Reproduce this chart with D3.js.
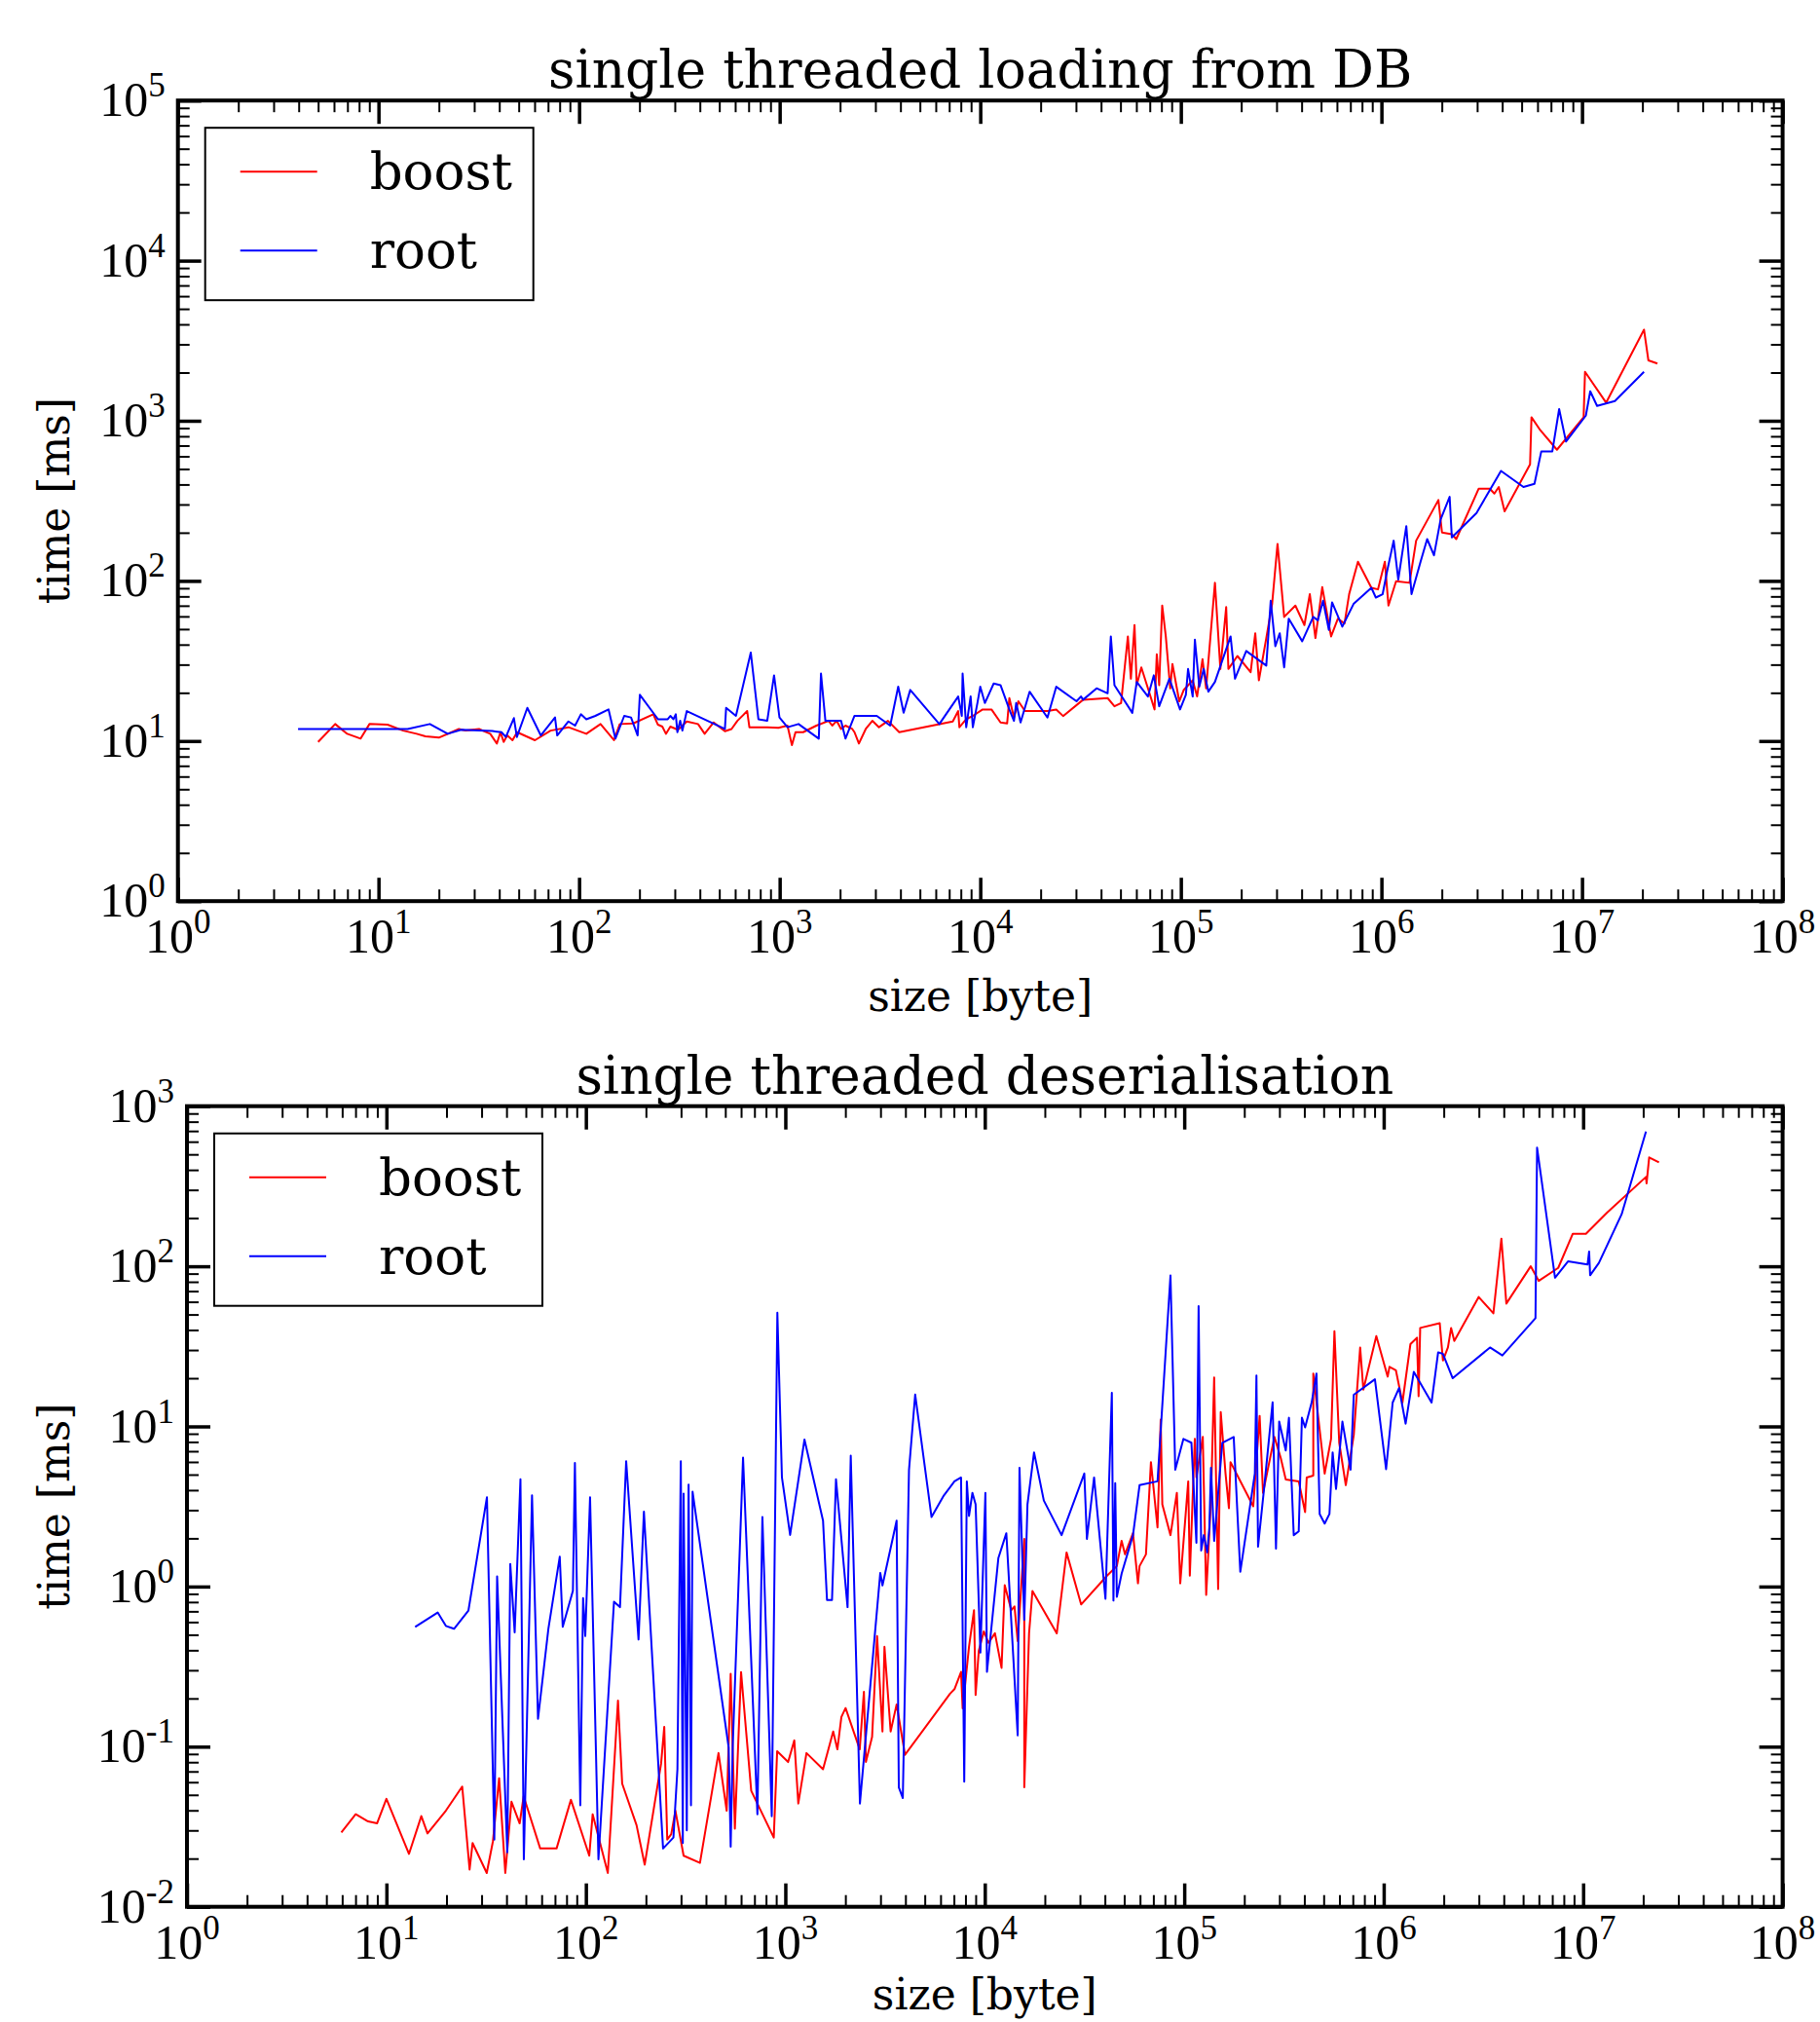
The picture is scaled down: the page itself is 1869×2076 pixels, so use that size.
<!DOCTYPE html>
<html>
<head>
<meta charset="utf-8">
<script src="https://cdn.jsdelivr.net/npm/d3@7"></script>
<style>
  body { margin: 0; background: #fff; }
  svg { display: block; }
</style>
</head>
<body>
<div id="chart"></div>
<script>
// Values, stored as log10(size [byte]) and log10(time [ms])

// single threaded loading from DB
const loadBoostLogSize = [0.699,0.784,0.844,0.911,0.955,1.045,1.123,1.19,1.234,1.301,1.401,1.435,1.501,1.557,1.59,1.608,1.624,1.642,1.668,1.691,1.78,1.858,1.947,2.036,2.107,2.174,2.203,2.27,2.37,2.393,2.415,2.433,2.455,2.493,2.537,2.593,2.626,2.671,2.727,2.76,2.789,2.838,2.849,2.938,2.994,3.039,3.061,3.079,3.117,3.183,3.244,3.262,3.284,3.306,3.328,3.362,3.373,3.395,3.429,3.462,3.495,3.54,3.596,3.863,3.89,3.896,3.93,3.963,4.012,4.056,4.101,4.134,4.145,4.168,4.19,4.223,4.335,4.379,4.413,4.513,4.635,4.669,4.702,4.736,4.751,4.769,4.78,4.803,4.836,4.869,4.88,4.892,4.907,4.925,4.947,4.958,4.992,5.014,5.059,5.081,5.108,5.126,5.17,5.197,5.226,5.237,5.282,5.348,5.371,5.389,5.426,5.455,5.482,5.515,5.571,5.616,5.643,5.671,5.705,5.749,5.783,5.816,5.839,5.883,5.95,5.983,6.017,6.035,6.073,6.14,6.173,6.284,6.302,6.351,6.373,6.485,6.54,6.563,6.585,6.614,6.741,6.748,6.792,6.875,7.008,7.015,7.12,7.309,7.331,7.376];
const loadBoostLogTime = [0.994,1.106,1.045,1.015,1.106,1.102,1.065,1.045,1.029,1.021,1.075,1.065,1.075,1.045,0.984,1.055,0.994,1.035,1.005,1.055,1.005,1.065,1.086,1.045,1.106,1.005,1.106,1.11,1.167,1.102,1.09,1.045,1.09,1.07,1.122,1.106,1.045,1.116,1.061,1.075,1.126,1.187,1.086,1.086,1.082,1.096,0.974,1.055,1.055,1.096,1.126,1.096,1.126,1.075,1.096,1.075,1.055,0.984,1.075,1.126,1.086,1.126,1.055,1.122,1.187,1.086,1.136,1.157,1.197,1.197,1.116,1.11,1.268,1.146,1.248,1.187,1.187,1.197,1.156,1.258,1.268,1.217,1.237,1.653,1.389,1.724,1.349,1.46,1.329,1.197,1.541,1.349,1.846,1.653,1.329,1.481,1.248,1.318,1.379,1.278,1.511,1.329,1.988,1.45,1.836,1.45,1.531,1.43,1.673,1.379,1.643,1.856,2.231,1.775,1.846,1.724,1.917,1.643,1.961,1.653,1.764,1.734,1.917,2.12,1.957,1.947,2.12,1.846,1.998,1.988,2.251,2.505,2.302,2.292,2.261,2.576,2.576,2.545,2.586,2.434,2.728,3.022,2.941,2.819,3.022,3.306,3.113,3.569,3.377,3.357];

const loadRootLogSize = [0.599,1.145,1.256,1.345,1.412,1.568,1.613,1.635,1.675,1.69,1.742,1.809,1.88,1.891,1.947,1.98,2.009,2.036,2.081,2.147,2.181,2.225,2.259,2.292,2.303,2.381,2.393,2.442,2.455,2.47,2.482,2.49,2.504,2.515,2.537,2.727,2.733,2.782,2.856,2.894,2.938,2.972,2.999,3.039,3.094,3.195,3.206,3.228,3.306,3.328,3.373,3.484,3.551,3.591,3.618,3.651,3.796,3.89,3.908,3.912,3.93,3.952,3.963,3.986,4.0,4.023,4.067,4.101,4.145,4.168,4.179,4.201,4.246,4.335,4.379,4.48,4.502,4.513,4.58,4.635,4.651,4.669,4.758,4.78,4.836,4.865,4.892,4.943,4.996,5.025,5.036,5.059,5.07,5.092,5.114,5.137,5.17,5.248,5.27,5.326,5.426,5.448,5.471,5.493,5.515,5.538,5.605,5.66,5.683,5.709,5.738,5.754,5.805,5.861,5.95,5.972,6.006,6.028,6.061,6.084,6.124,6.15,6.195,6.228,6.262,6.295,6.34,6.351,6.474,6.596,6.708,6.763,6.797,6.852,6.886,6.92,7.019,7.041,7.075,7.164,7.309];
const loadRootLogTime = [1.075,1.075,1.106,1.045,1.07,1.062,1.055,1.025,1.143,1.025,1.207,1.035,1.147,1.035,1.122,1.096,1.167,1.136,1.157,1.197,1.015,1.157,1.147,1.035,1.289,1.157,1.136,1.136,1.157,1.136,1.167,1.055,1.126,1.065,1.187,1.075,1.207,1.157,1.552,1.136,1.126,1.41,1.147,1.086,1.106,1.015,1.421,1.126,1.126,1.015,1.157,1.157,1.096,1.339,1.177,1.319,1.106,1.278,1.157,1.421,1.086,1.278,1.086,1.238,1.339,1.237,1.359,1.349,1.197,1.126,1.237,1.116,1.308,1.146,1.339,1.248,1.278,1.258,1.329,1.298,1.653,1.349,1.176,1.369,1.278,1.41,1.217,1.389,1.197,1.288,1.45,1.278,1.633,1.339,1.45,1.308,1.369,1.653,1.389,1.562,1.471,1.876,1.592,1.673,1.46,1.764,1.623,1.775,1.754,1.876,1.694,1.866,1.714,1.856,1.957,1.896,1.917,2.059,2.251,2.008,2.342,1.917,2.12,2.261,2.16,2.383,2.525,2.272,2.424,2.687,2.586,2.606,2.809,2.809,3.073,2.87,3.032,3.184,3.093,3.123,3.306];

// single threaded deserialisation
const deserBoostLogSize = [0.774,0.846,0.908,0.953,1.0,1.113,1.175,1.206,1.298,1.38,1.417,1.432,1.503,1.534,1.565,1.596,1.627,1.668,1.688,1.771,1.853,1.925,2.017,2.034,2.11,2.161,2.182,2.254,2.295,2.377,2.393,2.408,2.428,2.449,2.49,2.572,2.665,2.706,2.726,2.747,2.778,2.829,2.942,2.959,3.014,3.045,3.065,3.106,3.189,3.24,3.261,3.281,3.302,3.373,3.394,3.404,3.435,3.46,3.487,3.497,3.528,3.558,3.6,3.826,3.848,3.881,3.889,3.921,3.946,3.954,3.97,3.995,4.019,4.051,4.084,4.1,4.133,4.149,4.165,4.198,4.198,4.222,4.239,4.361,4.41,4.483,4.613,4.662,4.686,4.703,4.743,4.768,4.776,4.808,4.833,4.866,4.882,4.89,4.931,4.963,4.98,5.02,5.028,5.053,5.061,5.093,5.11,5.134,5.15,5.17,5.183,5.207,5.224,5.232,5.346,5.378,5.395,5.452,5.484,5.509,5.574,5.606,5.614,5.647,5.647,5.704,5.736,5.753,5.777,5.81,5.85,5.882,5.898,5.963,6.004,6.02,6.029,6.061,6.094,6.134,6.167,6.175,6.183,6.281,6.297,6.322,6.338,6.354,6.476,6.55,6.59,6.615,6.737,6.777,6.875,6.948,7.014,7.12,7.315,7.318,7.331,7.38];
const deserBoostLogTime = [-1.535,-1.422,-1.467,-1.479,-1.326,-1.67,-1.434,-1.542,-1.4,-1.249,-1.767,-1.602,-1.789,-1.591,-1.197,-1.789,-1.344,-1.479,-1.31,-1.636,-1.636,-1.332,-1.681,-1.422,-1.789,-0.713,-1.231,-1.49,-1.737,-1.107,-0.876,-1.58,-1.546,-1.4,-1.681,-1.726,-1.04,-1.4,-0.545,-1.512,-0.534,-1.276,-1.568,-1.029,-1.096,-0.961,-1.355,-1.04,-1.141,-0.905,-1.017,-0.815,-0.759,-1.017,-0.657,-1.096,-0.939,-0.309,-0.905,-0.376,-0.905,-0.736,-1.051,-0.669,-0.641,-0.533,-0.761,-0.376,-0.148,-0.677,-0.4,-0.28,-0.352,-0.292,-0.508,0.008,-0.148,-0.124,-0.34,0.297,-1.254,-0.292,-0.028,-0.292,0.213,-0.112,0.068,0.128,0.285,0.201,0.333,0.02,0.128,0.201,0.777,0.369,1.042,0.513,0.321,0.585,0.02,0.657,0.068,0.922,0.682,0.934,-0.052,0.537,1.306,-0.016,1.09,0.706,0.489,0.777,0.501,1.066,0.585,0.934,0.802,0.669,0.657,0.465,0.681,0.693,1.33,0.705,0.922,1.595,0.898,0.633,0.946,1.493,1.23,1.564,1.382,1.311,1.372,1.351,1.149,1.514,1.554,1.189,1.615,1.645,1.412,1.493,1.615,1.534,1.808,1.706,2.173,1.767,2.0,1.909,1.99,2.203,2.203,2.335,2.558,2.518,2.68,2.649];

const deserRootLogSize = [1.144,1.257,1.298,1.339,1.411,1.504,1.541,1.555,1.606,1.621,1.643,1.672,1.689,1.73,1.76,1.812,1.869,1.884,1.935,1.945,1.972,1.986,1.997,2.021,2.063,2.141,2.171,2.202,2.264,2.291,2.387,2.439,2.459,2.476,2.486,2.49,2.506,2.515,2.527,2.535,2.716,2.726,2.736,2.788,2.86,2.885,2.932,2.96,2.983,3.024,3.096,3.189,3.209,3.234,3.254,3.312,3.328,3.374,3.476,3.487,3.558,3.569,3.589,3.62,3.651,3.733,3.795,3.848,3.881,3.897,3.91,3.921,3.938,3.954,3.978,4.003,4.011,4.068,4.108,4.165,4.174,4.198,4.214,4.247,4.296,4.385,4.499,4.512,4.548,4.605,4.637,4.645,4.654,4.662,4.686,4.743,4.776,4.866,4.931,4.955,4.996,5.036,5.061,5.072,5.085,5.098,5.115,5.126,5.134,5.15,5.191,5.248,5.281,5.354,5.362,5.37,5.403,5.443,5.46,5.476,5.509,5.525,5.549,5.574,5.59,5.606,5.639,5.663,5.679,5.704,5.728,5.744,5.761,5.793,5.834,5.85,5.956,6.012,6.045,6.077,6.11,6.151,6.24,6.273,6.297,6.346,6.533,6.595,6.761,6.769,6.859,6.924,7.022,7.03,7.035,7.079,7.193,7.315];
const deserRootLogTime = [-0.252,-0.162,-0.246,-0.264,-0.151,0.558,-1.58,0.063,-1.659,0.141,-0.286,0.67,-1.704,0.569,-0.826,-0.264,0.186,-0.252,-0.027,0.772,-1.366,-0.072,-0.309,0.558,-1.704,-0.095,-0.129,0.783,-0.331,0.468,-1.636,-1.568,-1.141,0.783,-1.602,0.58,-1.523,0.637,-1.366,0.592,-1.006,-1.625,-1.006,0.805,-1.422,0.434,-1.434,1.71,0.682,0.322,0.918,0.412,-0.084,-0.084,0.67,-0.129,0.817,-1.355,0.085,0.007,0.412,-1.254,-1.321,0.727,1.199,0.434,0.569,0.657,0.681,-1.218,0.657,0.441,0.585,0.513,-0.412,0.585,-0.533,0.177,0.333,-0.929,0.742,-0.208,0.513,0.838,0.537,0.321,0.706,0.297,0.681,-0.076,1.21,-0.088,0.645,-0.064,0.08,0.321,0.633,0.657,1.943,0.73,0.922,0.898,0.273,1.751,0.225,0.321,0.213,0.369,0.742,0.285,0.898,0.934,0.092,0.706,1.318,0.249,0.645,1.15,0.237,1.03,0.85,1.054,0.321,0.345,1.054,0.994,1.15,1.33,0.453,0.393,0.453,0.838,0.609,1.03,0.73,1.198,1.294,0.733,1.149,1.24,1.017,1.341,1.149,1.463,1.453,1.301,1.493,1.443,1.676,2.741,1.929,2.031,2.011,2.092,1.944,2.021,2.325,2.842];

const seriesNames = ["boost", "root"];
const seriesColors = ["#ff0000", "#0000ff"];
const xLabel = "size [byte]";
const yLabel = "time [ms]";

const panels = [
    {
        title: "single threaded loading from DB",
        yDomain: [1, 1e5],
        left: 182.7, right: 1830.6, top: 103.2, bottom: 925.2,
        xLabelY: 1038,
        series: [
            { sizes: loadBoostLogSize, times: loadBoostLogTime },
            { sizes: loadRootLogSize, times: loadRootLogTime }
        ]
    },
    {
        title: "single threaded deserialisation",
        yDomain: [1e-2, 1e3],
        left: 192, right: 1830.6, top: 1135.7, bottom: 1957.7,
        xLabelY: 2063, // the reference crops this label at the bottom edge; keep it just inside
        series: [
            { sizes: deserBoostLogSize, times: deserBoostLogTime },
            { sizes: deserRootLogSize, times: deserRootLogTime }
        ]
    }
];

const svg = d3.select("#chart")
    .append("svg")
    .attr("width", 1869)
    .attr("height", 2076);

const serif = "'DejaVu Serif', serif";
const tickFont = "'Liberation Serif', 'Times New Roman', serif";

panels.forEach(drawPanel);

function drawPanel(p) {
    const x = d3.scaleLog().domain([1, 1e8]).range([p.left, p.right]);
    const y = d3.scaleLog().domain(p.yDomain).range([p.bottom, p.top]);

    const isMajor = v => Math.abs(Math.log10(v) - Math.round(Math.log10(v))) < 1e-9;
    const xMajor = x.ticks().filter(isMajor);
    const xMinor = x.ticks().filter(v => !isMajor(v));
    const yMajor = y.ticks().filter(isMajor);
    const yMinor = y.ticks().filter(v => !isMajor(v));

    // data lines
    const g = svg.append("g");
    p.series.forEach((s, i) => {
        const pts = s.sizes.map((v, k) => [Math.pow(10, v), Math.pow(10, s.times[k])]);
        g.append("path")
            .datum(pts)
            .attr("fill", "none")
            .attr("stroke", seriesColors[i])
            .attr("stroke-width", 2)
            .attr("stroke-linejoin", "round")
            .attr("d", d3.line().x(d => x(d[0])).y(d => y(d[1])));
    });

    // ticks, pointing inwards on all four sides
    const addTicks = (axis, scale, values, size, width, transform) => {
        const a = svg.append("g")
            .attr("transform", transform)
            .call(axis(scale).tickValues(values).tickSize(-size).tickFormat(""));
        a.select(".domain").remove();
        a.selectAll("line").attr("stroke", "#000").attr("stroke-width", width);
    };
    [[xMajor, 24, 3.5], [xMinor, 12, 2]].forEach(([vals, len, w]) => {
        addTicks(d3.axisBottom, x, vals, len, w, `translate(0,${p.bottom})`);
        addTicks(d3.axisTop, x, vals, len, w, `translate(0,${p.top})`);
    });
    [[yMajor, 24, 3.5], [yMinor, 12, 2]].forEach(([vals, len, w]) => {
        addTicks(d3.axisLeft, y, vals, len, w, `translate(${p.left},0)`);
        addTicks(d3.axisRight, y, vals, len, w, `translate(${p.right},0)`);
    });

    // frame
    svg.append("rect")
        .attr("x", p.left).attr("y", p.top)
        .attr("width", p.right - p.left).attr("height", p.bottom - p.top)
        .attr("fill", "none").attr("stroke", "#000").attr("stroke-width", 4);

    // tick labels like 10^n
    const power = (sel, v) => {
        sel.append("tspan").text("10");
        sel.append("tspan")
            .attr("dy", -20)
            .attr("font-size", 35)
            .text(Math.round(Math.log10(v)));
    };
    xMajor.forEach(v => {
        svg.append("text")
            .attr("x", x(v)).attr("y", p.bottom + 53)
            .attr("text-anchor", "middle")
            .attr("font-family", tickFont).attr("font-size", 50)
            .call(power, v);
    });
    yMajor.forEach(v => {
        svg.append("text")
            .attr("x", p.left - 13).attr("y", y(v) + 16)
            .attr("text-anchor", "end")
            .attr("font-family", tickFont).attr("font-size", 50)
            .call(power, v);
    });

    // title and axis labels
    const cx = (p.left + p.right) / 2;
    svg.append("text")
        .attr("x", cx).attr("y", p.top - 13)
        .attr("text-anchor", "middle")
        .attr("font-family", serif).attr("font-size", 53.5)
        .text(p.title);
    svg.append("text")
        .attr("x", cx).attr("y", p.xLabelY)
        .attr("text-anchor", "middle")
        .attr("font-family", serif).attr("font-size", 44)
        .text(xLabel);
    svg.append("text")
        .attr("transform", `translate(71,${(p.top + p.bottom) / 2}) rotate(-90)`)
        .attr("text-anchor", "middle")
        .attr("font-family", serif).attr("font-size", 44)
        .text(yLabel);

    // legend
    const lx = p.left + 28, ly = p.top + 28;
    svg.append("rect")
        .attr("x", lx).attr("y", ly)
        .attr("width", 337).attr("height", 177)
        .attr("fill", "#fff").attr("stroke", "#000").attr("stroke-width", 2);
    seriesNames.forEach((name, i) => {
        const rowY = ly + 45 + i * 81;
        svg.append("line")
            .attr("x1", lx + 36).attr("x2", lx + 115)
            .attr("y1", rowY).attr("y2", rowY)
            .attr("stroke", seriesColors[i]).attr("stroke-width", 2);
        svg.append("text")
            .attr("x", lx + 169).attr("y", rowY + 18)
            .attr("font-family", serif).attr("font-size", 53)
            .text(name);
    });
}
</script>
</body>
</html>
